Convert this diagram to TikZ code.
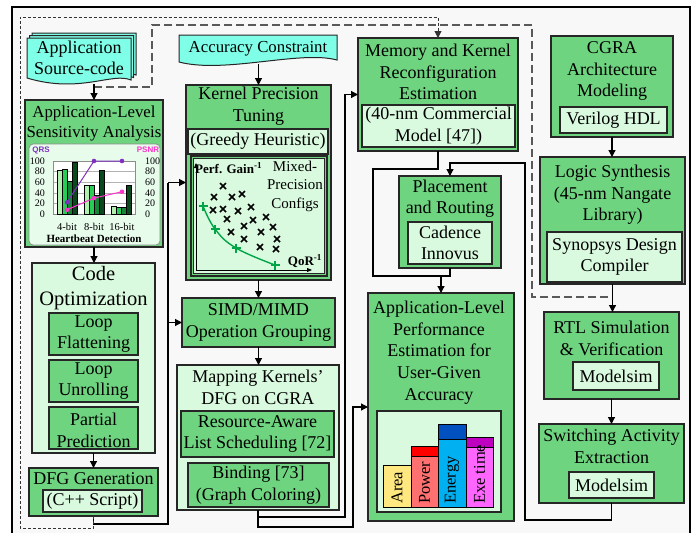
\documentclass[tikz,border=0pt]{standalone}
\usepackage{fontspec}
\setmainfont{Liberation Serif}
\setsansfont{Liberation Sans}
\usetikzlibrary{arrows.meta,calc}
\definecolor{gmid}{RGB}{111,212,128}
\definecolor{glight}{RGB}{217,250,223}
\definecolor{cyandoc}{RGB}{128,255,232}
\definecolor{bgc}{RGB}{248,248,248}
\definecolor{bA}{RGB}{175,240,175}
\definecolor{bB}{RGB}{40,205,85}
\definecolor{bC}{RGB}{20,135,55}
\definecolor{bD}{RGB}{10,72,30}
\definecolor{qrs}{RGB}{128,48,192}
\definecolor{psnr}{RGB}{255,51,204}
\definecolor{curve}{RGB}{0,165,70}
\definecolor{areac}{RGB}{255,232,128}
\definecolor{powc}{RGB}{255,112,112}
\definecolor{powcap}{RGB}{255,0,0}
\definecolor{enc}{RGB}{0,176,240}
\definecolor{encap}{RGB}{0,80,192}
\definecolor{exc}{RGB}{255,102,255}
\definecolor{excap}{RGB}{192,0,192}
\newcommand{\fs}{\fontsize{18}{21.5}\selectfont}
\newcommand{\fsS}{\fontsize{16.8}{20}\selectfont}
\newcommand{\bx}[7]{\node[#6, inner sep=0pt, outer sep=0pt, minimum width={#4-#2}, minimum height={#5-#3}, align=center, font=\fs] (#1) at ({(#2+#4)/2},{(#3+#5)/2}) {#7};}
\tikzset{
  box/.style={draw=black!85, line width=1.1pt, fill=gmid},
  lbox/.style={draw=black!85, line width=1.1pt, fill=glight},
  txt/.style={align=center, font=\fs, inner sep=0pt},
  conn/.style={line width=1.2pt, draw=black},
  arr/.style={conn, -{Triangle[length=7pt,width=7pt]}},
  sdash/.style={line width=1pt, dash pattern=on 3pt off 2pt, draw=black!80},
  ldash/.style={line width=1.3pt, dash pattern=on 8pt off 4pt, draw=black!65},
  doc/.style={draw=black!85, line width=1pt, fill=cyandoc},
  small/.style={inner sep=0pt, font=\fontsize{10}{11}\selectfont},
  xm/.style={line width=1.7pt, black},
  pm/.style={line width=1.7pt, curve},
}
\begin{document}
\begin{tikzpicture}[x=1pt,y=-1pt]
\clip (0,0) rectangle (694,533);
\fill[white] (0,0) rectangle (694,533);
\draw[line width=2.6pt, fill=bgc] (12,7) rectangle (690,560);

% ---------- left column ----------
\foreach \o in {5,2.5,0}{
  \begin{scope}[shift={(\o,-\o)}]
    \draw[doc] (27,38) -- (131,38) -- (131,80) .. controls (112,72) and (80,94) .. (27,78) -- cycle;
  \end{scope}
}
\bx{src}{27}{38}{131}{84}{}{}
\node[txt] (srct) at (79,58) {Application\\Source-code};

\bx{sens}{25}{100}{163}{247}{box}{}
\node[txt, font=\fsS] (senst) at (94,123) {Application-Level\\Sensitivity Analysis};
\draw[draw=black!45, line width=0.8pt, fill=glight!60!white, rounded corners=4pt] (29,144) rectangle (160,245);
\fill[white] (53,161) rectangle (135,214);
\foreach \v in {0,20,...,100}{
  \draw[black!30, line width=0.6pt] (53,{214-0.53*\v}) -- (135,{214-0.53*\v});
  \node[small, anchor=east] at (45,{214-0.53*\v}) {\v};
  \node[small, anchor=west] at (145,{214-0.53*\v}) {\v};
}
\draw[black!45, line width=0.6pt] (53,161) rectangle (135,214);
\foreach \g/\a/\b/\c/\d in {0/82/84/62/97, 1/54/55/35/83, 2/15/12/13/55}{
  \pgfmathsetmacro{\s}{57+27*\g}
  \draw[fill=bA, line width=0.5pt] (\s,214) rectangle ({\s+5},{214-0.53*\a});
  \draw[fill=bB, line width=0.5pt] ({\s+5},214) rectangle ({\s+10},{214-0.53*\b});
  \draw[fill=bC, line width=0.5pt] ({\s+10},214) rectangle ({\s+15},{214-0.53*\c});
  \draw[fill=bD, line width=0.5pt] ({\s+15},214) rectangle ({\s+20},{214-0.53*\d});
}
\draw[qrs, line width=1pt] (67,{214-0.53*22}) -- (94,161) -- (122,161);
\foreach \x/\v in {67/22, 94/100, 122/100} \fill[qrs] (\x,{214-0.53*\v}) circle (2.3);
\draw[psnr, line width=1pt] (67,{214-0.53*8}) -- (94,{214-0.53*30}) -- (122,{214-0.53*42});
\foreach \x/\v in {67/8, 94/30, 122/42} \fill[psnr] (\x,{214-0.53*\v}) circle (2.3);
\node[inner sep=0pt, text=qrs, font=\sffamily\bfseries\fontsize{8}{9}\selectfont] at (41,150) {QRS};
\node[inner sep=0pt, text=psnr, font=\sffamily\bfseries\fontsize{8}{9}\selectfont] at (148,150) {PSNR};
\node[small, font=\fontsize{10.5}{12}\selectfont] at (67,227) {4-bit};
\node[small, font=\fontsize{10.5}{12}\selectfont] at (94,227) {8-bit};
\node[small, font=\fontsize{10.5}{12}\selectfont] at (122,227) {16-bit};
\node[small, font=\bfseries\fontsize{11}{12}\selectfont] at (94,238.5) {Heartbeat Detection};

\bx{codeopt}{32}{263}{155}{453}{lbox}{}
\node[txt, font=\fontsize{20.5}{25}\selectfont] (codet) at (93.5,288.5) {Code\\Optimization};
\bx{lf}{49}{313}{138}{355}{box}{Loop\\Flattening}
\bx{lu}{49}{360}{138}{402}{box}{Loop\\Unrolling}
\bx{pp}{49}{407}{138}{449}{box}{}
\node[txt] (ppt) at (93.5,430.5) {Partial\\Prediction};
\bx{dfg}{29}{468}{158}{516}{box}{}
\node[txt] (dfgt) at (93.5,479) {DFG Generation};
\bx{cpp}{43}{490}{142}{512}{lbox}{(C++ Script)}

% ---------- middle column ----------
\draw[doc] (179,35) -- (337,35) -- (337,60) .. controls (300,50) and (225,74) .. (179,62) -- cycle;
\bx{acc}{179}{35}{337}{64}{}{}
\node[txt, font=\fontsize{16.8}{20}\selectfont] (acct) at (258,48.5) {Accuracy Constraint};

\bx{tuning}{186}{85}{331}{280}{box}{}
\node[txt] (tunt) at (258.5,106) {Kernel Precision\\Tuning};
\bx{greedy}{188}{129}{328}{154}{lbox}{(Greedy Heuristic)}
\draw[box] (191,156) rectangle (327,276);
\draw[lbox, line width=0.9pt] (193.5,158.5) rectangle (324.5,273.5);
\draw[line width=0.9pt, -{Triangle[length=5pt,width=4pt]}] (196,270) -- (196,163);
\draw[line width=0.9pt, -{Triangle[length=5pt,width=4pt]}] (196,270) -- (312,270);
\node[inner sep=0pt, anchor=west, font=\bfseries\fontsize{13}{14}\selectfont] at (195,168) {Perf. Gain\textsuperscript{-1}};
\node[inner sep=0pt, align=center, font=\fontsize{15}{18.5}\selectfont] at (295,186) {Mixed-\\Precision\\Configs};
\node[inner sep=0pt, font=\bfseries\fontsize{13}{14}\selectfont] at (305,261) {QoR\textsuperscript{-1}};
\foreach \x/\y in {223/186,214/197,232/197,242/194,213/210,223/209,238/211,251/207,227/219,253/220,266/217,231/232,244/226,261/232,273/227,244/239,277/239,260/247,276/249}{
  \draw[xm] ({\x-3},{\y-3}) -- ({\x+3},{\y+3}) ({\x-3},{\y+3}) -- ({\x+3},{\y-3});
}
\draw[curve, line width=1.4pt] plot[smooth, tension=0.7] coordinates {(203,206) (215,229) (236,248) (275,265)};
\foreach \x/\y in {203/206,215/229,236/248,275/265}{
  \draw[pm] ({\x-4.5},\y) -- ({\x+4.5},\y) (\x,{\y-4.5}) -- (\x,{\y+4.5});
}

\bx{simd}{182}{298}{335}{347}{box}{SIMD/MIMD\\Operation Grouping}
\bx{map}{177}{365}{339}{510}{lbox}{}
\node[txt] (mapt) at (258,387.5) {Mapping Kernels'\\DFG on CGRA};
\bx{res}{181}{411}{334}{457}{box}{Resource-Aware\\List Scheduling [72]}
\bx{bind}{188}{463}{329}{507}{box}{Binding [73]\\(Graph Coloring)}

% ---------- center-right column ----------
\bx{mem}{358}{38}{518}{151}{box}{}
\node[txt] (memt) at (438,72) {Memory and Kernel\\Reconfiguration\\Estimation};
\bx{memsub}{362}{105}{515}{147}{lbox}{(40-nm Commercial\\Model [47])}
\bx{place}{399}{176}{501}{268}{box}{}
\node[txt] (placet) at (450,198.5) {Placement\\and Routing};
\bx{placesub}{408}{222}{492}{264}{lbox}{Cadence\\Innovus}
\bx{perf}{368}{293}{514}{521}{box}{}
\node[txt, font=\fontsize{18}{21.75}\selectfont] (perft) at (439,352.5) {Application-Level\\Performance\\Estimation for\\User-Given\\Accuracy};
\bx{perfin}{377}{411}{501}{512}{lbox}{}
\draw[line width=0.8pt, fill=areac] (383,507) rectangle (411,465);
\draw[line width=0.8pt, fill=powc] (411,507) rectangle (438,456);
\draw[line width=0.8pt, fill=powcap] (411,456) rectangle (438,446);
\draw[line width=0.8pt, fill=enc] (438,507) rectangle (466,439);
\draw[line width=0.8pt, fill=encap] (438,439) rectangle (466,424);
\draw[line width=0.8pt, fill=exc] (466,507) rectangle (493,447);
\draw[line width=0.8pt, fill=excap] (466,447) rectangle (493,437);
\node[inner sep=0pt, rotate=90, anchor=west, font=\fontsize{16.5}{18}\selectfont] at (397,504) {Area};
\node[inner sep=0pt, rotate=90, anchor=west, font=\fontsize{16.5}{18}\selectfont] at (424.5,504) {Power};
\node[inner sep=0pt, rotate=90, anchor=west, font=\fontsize{16.5}{18}\selectfont] at (452,504) {Energy};
\node[inner sep=0pt, rotate=90, anchor=west, font=\fontsize{16.5}{18}\selectfont] at (479.5,504) {Exe time};

% ---------- right column ----------
\bx{cgra}{551}{36}{673}{137}{box}{}
\node[txt] (cgrat) at (612,71) {CGRA\\Architecture\\Modeling};
\bx{cgrasub}{560}{107}{667}{133}{lbox}{Verilog HDL}
\bx{logic}{540}{157}{685}{284}{box}{}
\node[txt] (logict) at (612.5,195) {Logic Synthesis\\(45-nm Nangate\\Library)};
\bx{logicsub}{547}{232}{682}{282}{lbox}{Synopsys Design\\Compiler}
\bx{rtl}{544}{312}{679}{399}{box}{}
\node[txt] (rtlt) at (611.5,338.5) {RTL Simulation\\\& Verification};
\bx{rtlsub}{573}{362}{659}{390}{lbox}{Modelsim}
\bx{sw}{539}{424}{684}{503}{box}{}
\node[txt] (swt) at (611.5,446.5) {Switching Activity\\Extraction};
\bx{swsub}{569}{472}{654}{498}{lbox}{Modelsim}

% ---------- connectors ----------
\draw[ldash] ($(src.south -| sens.north)+(0,3)$) -- (152,87) -- (152,25) -- (532,25) -- (532,297) -- (612,297);
\draw[arr] (src.south -| sens.north) -- (sens.north);
\draw[arr] (sens.south) -- (sens.south |- codeopt.north);
\draw[arr] (codeopt.south) -- (codeopt.south |- dfg.north);
\coordinate (bus) at (168,524);
\draw[conn] (dfg.south) |- (bus) -- (bus |- tuning.west);
\draw[arr] (bus |- tuning.west) -- (tuning.west);
\draw[arr] (bus |- simd.west) -- (simd.west);
\draw[sdash, -{Triangle[length=7pt,width=7pt]}] (dfg.south) |- (20,528) |- (mem.north |- 0,17) -- (mem.north);

\draw[arr] (acc.south -| tuning.north) -- (tuning.north);
\draw[arr] (tuning.south) -- (tuning.south |- simd.north);
\draw[arr] (simd.south) -- (simd.south |- map.north);
\draw[arr] (map.south) |- (345,517) |- (mem.west);
\draw[arr] (map.south) |- (353,527) |- (perf.west);

\draw[conn] (mem.south) |- (373,169) |- (place.south |- 0,276) -- (place.south);
\draw[arr] (perf.north |- 0,276) -- (perf.north);
\draw[arr] (sw.south) |- (525,520) |- (place.north |- 0,163) -- (place.north);

\draw[arr] (cgra.south) -- (cgra.south |- logic.north);
\draw[arr] (logic.south) -- (logic.south |- rtl.north);
\draw[arr] (rtl.south) -- (rtl.south |- sw.north);
\end{tikzpicture}
\end{document}
